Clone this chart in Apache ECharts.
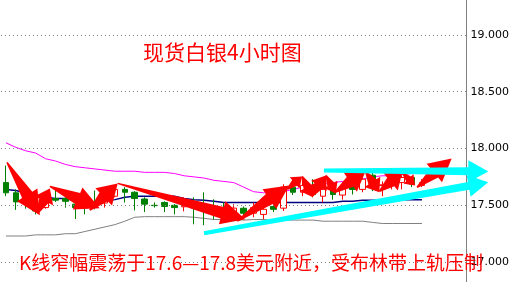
<!DOCTYPE html>
<html><head><meta charset="utf-8">
<script src="https://cdn.jsdelivr.net/npm/echarts@6/dist/echarts.min.js"></script>
<style>html,body{margin:0;padding:0;background:#fff}#c{width:512px;height:282px}</style>
</head><body><div id="c"></div>
<script>
// ---- data ----
const categories = ['1','2','3','4','5','6','7','8','9','10','11','12','13','14','15','16','17','18','19','20',
  '21','22','23','24','25','26','27','28','29','30','31','32','33','34','35','36','37','38','39','40',
  '41','42','43','','','',''];
// [open, close, low, high]
const ohlc = [
  [17.70,17.61,17.58,17.85],[17.61,17.53,17.46,17.64],[17.55,17.51,17.47,17.60],[17.51,17.45,17.42,17.55],
  [17.48,17.55,17.47,17.57],[17.56,17.545,17.53,17.64],[17.56,17.535,17.48,17.605],[17.51,17.48,17.38,17.525],
  [17.525,17.49,17.42,17.57],[17.525,17.48,17.465,17.63],[17.52,17.56,17.48,17.58],[17.58,17.64,17.57,17.675],
  [17.64,17.615,17.525,17.66],[17.615,17.56,17.455,17.625],[17.555,17.51,17.44,17.57],[17.50,17.497,17.48,17.525],
  [17.525,17.49,17.44,17.535],[17.50,17.48,17.42,17.51],[17.487,17.497,17.447,17.57],[17.49,17.475,17.333,17.57],
  [17.50,17.465,17.325,17.614],[17.48,17.447,17.377,17.553],[17.465,17.44,17.377,17.525],[17.44,17.475,17.41,17.51],
  [17.474,17.43,17.395,17.49],[17.43,17.48,17.395,17.525],[17.42,17.465,17.377,17.50],[17.49,17.465,17.44,17.525],
  [17.475,17.66,17.45,17.685],[17.66,17.615,17.59,17.73],[17.615,17.675,17.58,17.73],[17.665,17.595,17.57,17.73],
  [17.58,17.64,17.525,17.675],[17.64,17.595,17.55,17.71],[17.59,17.66,17.55,17.70],[17.685,17.64,17.595,17.73],
  [17.64,17.73,17.615,17.80],[17.765,17.675,17.625,17.80],[17.675,17.68,17.58,17.71],[17.675,17.70,17.64,17.745],
  [17.70,17.745,17.64,17.765],[17.745,17.685,17.66,17.755],[17.675,17.70,17.66,17.73]
];
const bollUpper = [18.05,18.01,17.98,17.96,17.91,17.89,17.86,17.84,17.83,17.82,17.81,17.80,17.80,17.80,17.79,17.79,
  17.79,17.78,17.76,17.75,17.74,17.72,17.71,17.70,17.66,17.62,17.61,17.61,17.62,17.64,17.66,17.68,17.69,17.70,17.71,
  17.72,17.73,17.75,17.76,17.76,17.77,17.78,17.79];
const bollMid = [17.64,17.63,17.61,17.59,17.57,17.56,17.56,17.54,17.535,17.525,17.535,17.55,17.57,17.58,17.58,17.58,
  17.58,17.58,17.56,17.55,17.545,17.535,17.525,17.525,17.525,17.525,17.525,17.525,17.525,17.525,17.525,17.525,17.525,
  17.525,17.535,17.535,17.545,17.545,17.545,17.55,17.55,17.55,17.55];
const bollLower = [17.23,17.23,17.23,17.24,17.24,17.24,17.25,17.25,17.27,17.29,17.31,17.33,17.36,17.395,17.40,17.40,
  17.40,17.40,17.40,17.395,17.385,17.375,17.375,17.375,17.37,17.375,17.375,17.37,17.37,17.37,17.37,17.37,17.36,17.36,
  17.36,17.36,17.36,17.35,17.34,17.34,17.34,17.34,17.34];
const yTicks = [17, 17.5, 18, 18.5, 19];
// annotation arrows: [fromIndex, fromPrice, toIndex, toPrice]
const redArrows = [
  [0.10,17.877,3.43,17.412],[3.22,17.43,4.43,17.649],[4.43,17.667,9.46,17.474],[8.46,17.456,11.28,17.693],
  [11.28,17.693,24.16,17.377],[23.35,17.36,28.59,17.675],[28.39,17.64,29.9,17.754],[29.9,17.754,31.0,17.57],
  [30.9,17.579,32.3,17.763],[32.3,17.763,33.3,17.605],[33.2,17.614,36.3,17.798],[36.3,17.798,37.7,17.614],
  [37.7,17.623,40.0,17.789],[40.0,17.789,41.3,17.675],[41.5,17.658,45.0,17.912]
];
const cyanArrows = [
  [32.1,17.807,48.7,17.798],
  [20.0,17.254,48.7,17.702]
];
const titleText = '现货白银4小时图';
const noteText = 'K线窄幅震荡于17.6—17.8美元附近，受布林带上轨压制';

// ---- chart ----
function arrowSeries(data, color, cfg) {
  return {
    type: 'custom', xAxisIndex: 1, yAxisIndex: 0, z: 10, clip: false, silent: true,
    data: data, encode: {x: [0, 2], y: [1, 3]},
    renderItem: function (params, api) {
      const a = api.coord([api.value(0), api.value(1)]);
      const b = api.coord([api.value(2), api.value(3)]);
      const dx = b[0] - a[0], dy = b[1] - a[1], L = Math.hypot(dx, dy);
      const ux = dx / L, uy = dy / L, nx = -uy, ny = ux;
      const hl = Math.min(cfg.hl, L * cfg.hlFrac);
      const hw = Math.min(cfg.hw, L * cfg.hwFrac);
      const sw = cfg.sw != null ? cfg.sw : hw * cfg.swFrac;
      const tw = cfg.tw;
      const bx = b[0] - ux * hl, by = b[1] - uy * hl;
      const pts = [
        [a[0] + nx * tw / 2, a[1] + ny * tw / 2],
        [bx + nx * sw / 2, by + ny * sw / 2],
        [bx + nx * hw / 2, by + ny * hw / 2],
        [b[0], b[1]],
        [bx - nx * hw / 2, by - ny * hw / 2],
        [bx - nx * sw / 2, by - ny * sw / 2],
        [a[0] - nx * tw / 2, a[1] - ny * tw / 2]
      ];
      return {type: 'polygon', shape: {points: pts}, style: {fill: color}};
    }
  };
}

const chart = echarts.init(document.getElementById('c'), null, {renderer: 'canvas'});
chart.setOption({
  animation: false,
  backgroundColor: '#ffffff',
  title: [
    {text: titleText, left: 138, top: 37, padding: 5,
     textStyle: {color: '#ff0000', fontSize: 21, fontWeight: 'normal', fontFamily: 'Noto Sans CJK SC'}},
    {text: noteText, left: 14, top: 248, z: 20, padding: 5,
     textStyle: {color: '#ff0000', fontSize: 19, fontWeight: 'normal', fontFamily: 'Noto Sans CJK SC'}}
  ],
  grid: {left: 1, right: 44, top: 0, bottom: 0},
  xAxis: [
    {type: 'category', data: categories, boundaryGap: true, show: false},
    {type: 'value', min: -0.5, max: categories.length - 0.5, show: false}
  ],
  yAxis: {
    type: 'value', position: 'right', min: 16.825, max: 19.307, scale: true,
    splitLine: {show: false},
    axisLine: {show: true, onZero: false, lineStyle: {color: '#808080', width: 1}},
    axisTick: {show: false},
    axisLabel: {customValues: yTicks, margin: 4, color: '#000', fontSize: 11, fontFamily: 'DejaVu Sans',
      formatter: v => v.toFixed(3)}
  },
  series: [
    {type: 'line', data: bollLower, symbol: 'none', z: 3,
     lineStyle: {color: '#808080', width: 1},
     markLine: {silent: true, symbol: ['none', 'none'], label: {show: false},
       lineStyle: {color: '#808080', type: [1, 3], width: 1},
       data: yTicks.map(v => ({yAxis: v}))}},
    {type: 'line', data: bollUpper, symbol: 'none', z: 3, lineStyle: {color: '#ff00ff', width: 1}},
    {type: 'line', data: bollMid, symbol: 'none', z: 3, lineStyle: {color: '#000080', width: 1.5}},
    {type: 'candlestick', data: ohlc, barWidth: 6, z: 4,
     itemStyle: {color: '#ffffff', borderColor: '#ff0000', color0: '#008000', borderColor0: '#008000', borderWidth: 1}},
    arrowSeries(redArrows, '#ff0000', {hl: 24, hlFrac: 0.5, hw: 24, hwFrac: 0.75, swFrac: 0.5, tw: 1.5}),
    arrowSeries(cyanArrows, '#00ffff', {hl: 20, hlFrac: 0.3, hw: 22, hwFrac: 1, sw: 8, tw: 4})
  ]
});
</script></body></html>
